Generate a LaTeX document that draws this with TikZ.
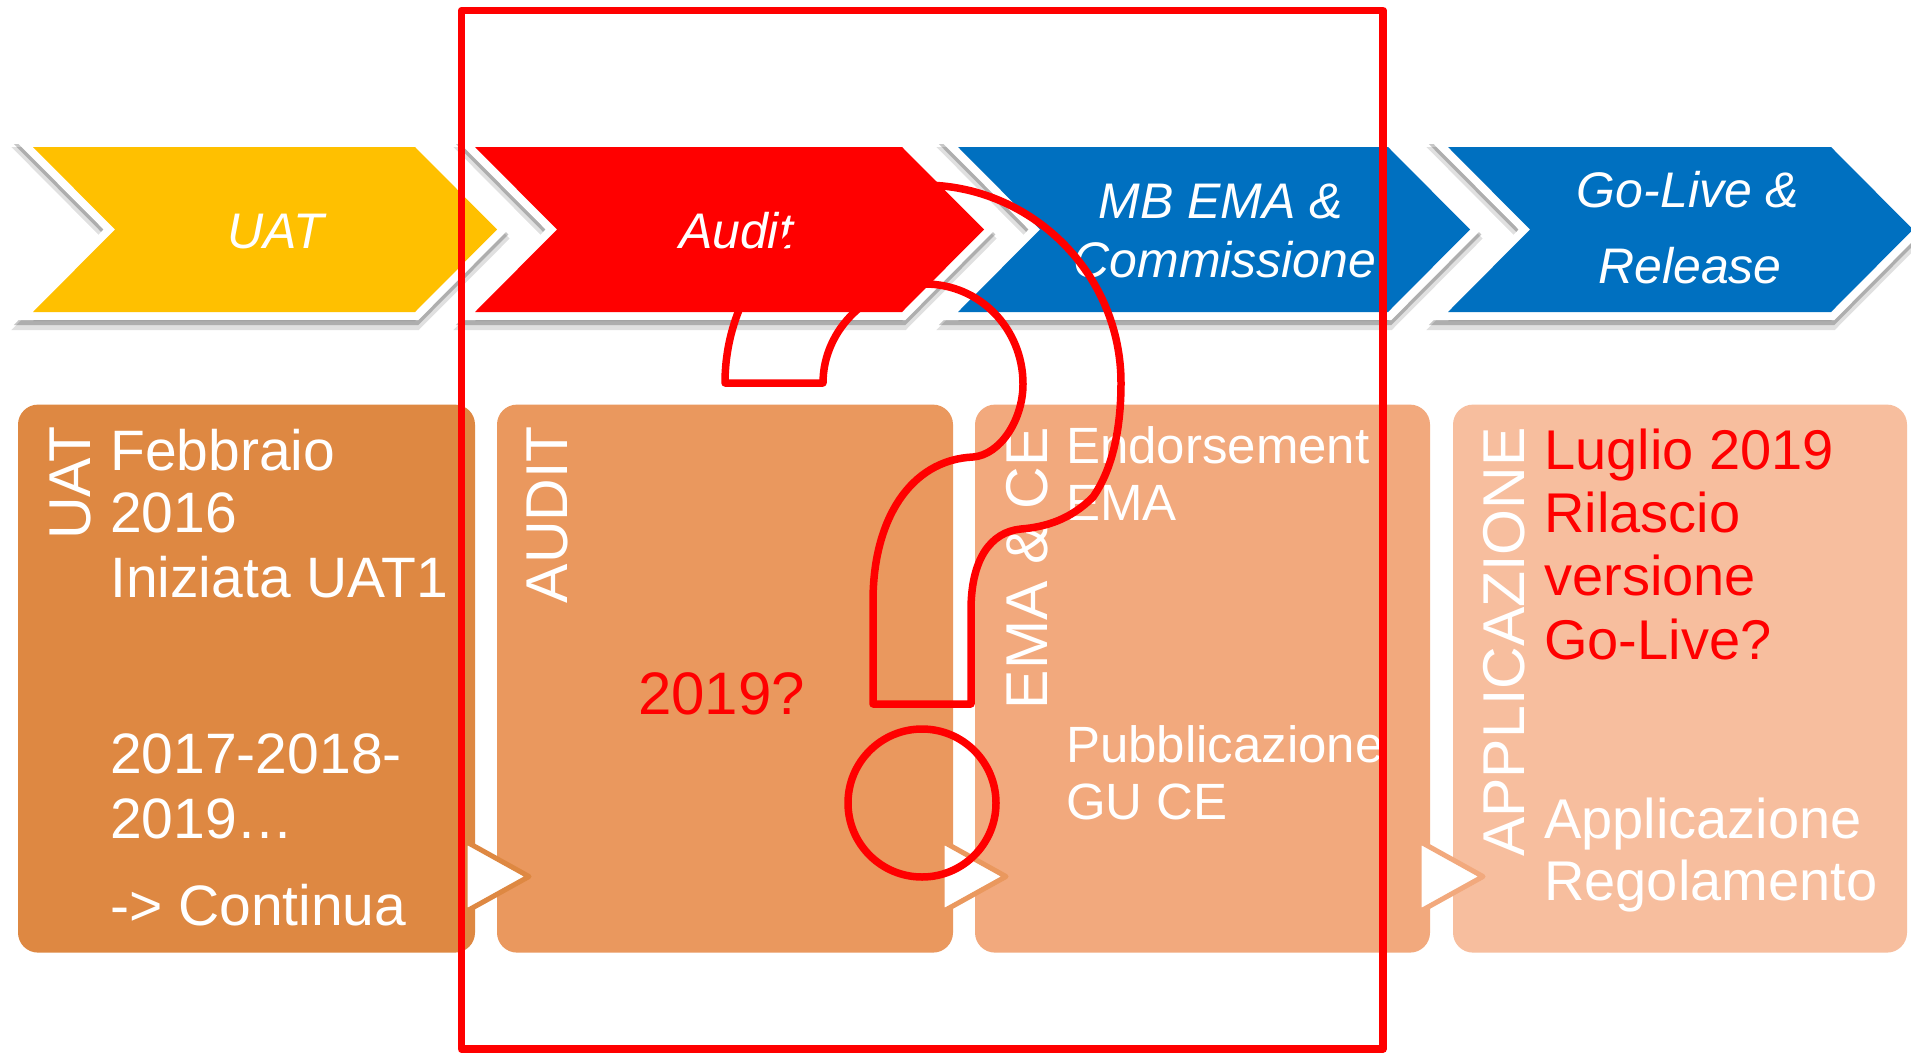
\documentclass[tikz,border=0pt]{standalone}
\usepackage{fontspec}
\setmainfont{Liberation Sans}
\definecolor{cyel}{HTML}{FFC000}
\definecolor{cred}{HTML}{FF0000}
\definecolor{cblue}{HTML}{0070C0}
\definecolor{boxa}{HTML}{DE8842}
\definecolor{boxb}{HTML}{EA985E}
\definecolor{boxc}{HTML}{F2A97D}
\definecolor{boxd}{HTML}{F7BE9E}
\colorlet{shadowc}{black}
\newcommand\mychev[3]{%
  \filldraw[shadowc, line width=18, line join=miter, opacity=0.12]
    (#1,156) -- (#2,156) -- ({#2+82},238.5) -- (#2,321) -- (#1,321) -- ({#1+82},238.5) -- cycle;
  \filldraw[shadowc, line width=16, line join=miter, opacity=0.22]
    (#1,152) -- (#2,152) -- ({#2+82},234.5) -- (#2,317) -- (#1,317) -- ({#1+82},234.5) -- cycle;
  \filldraw[white, line width=16, line join=miter]
    (#1,147) -- (#2,147) -- ({#2+82},229.5) -- (#2,312) -- (#1,312) -- ({#1+82},229.5) -- cycle;
  \fill[#3]
    (#1,147) -- (#2,147) -- ({#2+82},229.5) -- (#2,312) -- (#1,312) -- ({#1+82},229.5) -- cycle;}
\begin{document}
\begin{tikzpicture}[x=1pt, y=-1pt,
  chevtxt/.style={anchor=base, inner sep=0, text=white, font=\fontsize{50}{60}\selectfont\itshape},
  boxs/.style={draw=none, rounded corners=20pt, inner sep=0, rectangle},
  vlab/.style={rotate=90, anchor=base east, inner sep=0, text=white, font=\fontsize{59}{64}\selectfont},
  txta/.style={anchor=base west, inner sep=0, text=white, font=\fontsize{57}{62}\selectfont},
  txtc/.style={anchor=base west, inner sep=0, text=white, font=\fontsize{51}{56}\selectfont},
  txtd/.style={anchor=base west, inner sep=0, text=white, font=\fontsize{56}{62}\selectfont},
  tri/.style={fill=white, line width=5, line join=round},
  redline/.style={draw=cred, line width=7.5, line join=round}]
\useasboundingbox (0,0) rectangle (1911,1052);
\clip (0,0) rectangle (1911,1052);
\fill[white] (0,0) rectangle (1911,1052);
% chevrons
\mychev{33}{415}{cyel}
\mychev{475}{902}{cred}
\mychev{958}{1388}{cblue}
\mychev{1448}{1831}{cblue}
\node[chevtxt] (cUAT) at (276,248) {UAT};
\node[chevtxt] (cAudit) at (736,248) {Audit};
\node[chevtxt] (cMBa) at (1221,218) {MB EMA \&};
\node[chevtxt] (cMBb) at (1225,277) {Commissione};
\node[chevtxt] (cGoa) at (1688,207) {Go-Live \&};
\node[chevtxt] (cGob) at (1690,283) {Release};
% boxes
\node[boxs, fill=boxa, minimum width=457pt, minimum height=548pt] (b1) at (246.5,678.6) {};
\node[boxs, fill=boxb, minimum width=456pt, minimum height=548pt] (b2) at (725,678.6) {};
\node[boxs, fill=boxc, minimum width=455pt, minimum height=548pt] (b3) at (1202.5,678.6) {};
\node[boxs, fill=boxd, minimum width=454pt, minimum height=548pt] (b4) at (1680,678.6) {};
% triangles
\draw[tri, draw=boxa] (465,841) -- (529,876.5) -- (465,912) -- cycle;
\draw[tri, draw=boxb] (942,841) -- (1006,876.5) -- (942,912) -- cycle;
\draw[tri, draw=boxc] (1419,841) -- (1483,876.5) -- (1419,912) -- cycle;
% vertical labels
\node[vlab] (v1) at (90,426) {UAT};
\node[vlab] (v2) at (567,426) {AUDIT};
\node[vlab] (v3) at (1047,427) {EMA \& CE};
\node[vlab] (v4) at (1524,427) {APPLICAZIONE};
% box 1 text
\node[txta] (t11) at (110,470) {Febbraio};
\node[txta] (t12) at (110,532) {2016};
\node[txta] (t13) at (110,597) {Iniziata UAT1};
\node[txta] (t14) at (110,773) {2017-2018-};
\node[txta] (t15) at (110,838) {2019…};
\node[txta] (t16) at (110,925) {-> Continua};
% box 2 text
\node[anchor=base west, inner sep=0, text=cred, font=\fontsize{60}{66}\selectfont] (t21) at (638,714) {2019?};
% box 3 text
\node[txtc] (t31) at (1066,463) {Endorsement};
\node[txtc] (t32) at (1066,520) {EMA};
\node[txtc] (t33) at (1066,762) {Pubblicazione};
\node[txtc] (t34) at (1066,819) {GU CE};
% box 4 text
\node[txtd, text=cred] (t41) at (1544,469) {Luglio 2019};
\node[txtd, text=cred] (t42) at (1544,532) {Rilascio};
\node[txtd, text=cred] (t43) at (1544,595) {versione};
\node[txtd, text=cred] (t44) at (1544,659) {Go-Live?};
\node[txtd] (t45) at (1544,838) {Applicazione};
\node[txtd] (t46) at (1544,900) {Regolamento};
% red frame
\draw[redline] (461.5,10.5) rectangle (1383,1049);
% question mark
\draw[redline] (725,383) .. controls (725,274) and (814,185) .. (923,185)
  .. controls (1032,185) and (1121,274) .. (1121,383)
  .. controls (1121,430) and (1112,470) .. (1093,497)
  .. controls (1070,520) and (1045,527) .. (1021,529)
  .. controls (990,532) and (971,560) .. (971,610)
  -- (971,704) -- (873,704) -- (873,601)
  .. controls (873,520) and (910,460) .. (973,457)
  .. controls (1000,455) and (1023,420) .. (1023,384)
  .. controls (1023,329) and (980,284) .. (925,284)
  .. controls (870,284) and (823,329) .. (823,383)
  -- cycle;
\draw[redline] (922,803) circle [radius=74];
\end{tikzpicture}
\end{document}
